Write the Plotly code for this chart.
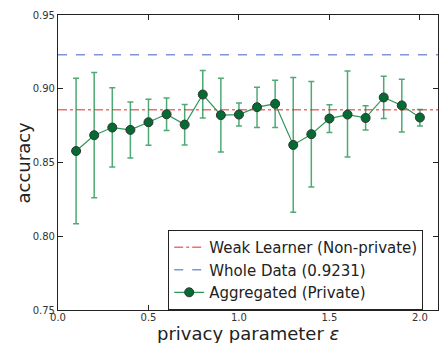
import plotly.graph_objects as go

eps = [0.1, 0.2, 0.3, 0.4, 0.5, 0.6, 0.7, 0.8, 0.9, 1.0,
       1.1, 1.2, 1.3, 1.4, 1.5, 1.6, 1.7, 1.8, 1.9, 2.0]
acc = [0.8578, 0.8685, 0.8737, 0.8721, 0.8773, 0.8827, 0.8757, 0.8961, 0.8821, 0.8825,
       0.8875, 0.8898, 0.8619, 0.8692, 0.8798, 0.8825, 0.8802, 0.8941, 0.8887, 0.8805]
err_top = [0.9072, 0.9110, 0.9006, 0.8911, 0.8929, 0.8938, 0.8893, 0.9124, 0.9072, 0.8904,
           0.9011, 0.9058, 0.9077, 0.9050, 0.8891, 0.9120, 0.8884, 0.9084, 0.9065, 0.8859]
err_bot = [0.8085, 0.8261, 0.8470, 0.8531, 0.8617, 0.8717, 0.8619, 0.8802, 0.8571, 0.8748,
           0.8737, 0.8737, 0.8162, 0.8334, 0.8703, 0.8538, 0.8721, 0.8798, 0.8707, 0.8748]
ref_x = [0.0, 2.1]
weak_acc = 0.8857
whole_acc = 0.9231

err_plus = [t - a for t, a in zip(err_top, acc)]
err_minus = [a - b for a, b in zip(acc, err_bot)]

fig = go.Figure()
fig.add_trace(go.Scatter(
    x=ref_x, y=[weak_acc] * 2, mode="lines",
    name="Weak Learner (Non-private)",
    line=dict(color="#f07070", width=1.5, dash="dashdot"),
))
fig.add_trace(go.Scatter(
    x=ref_x, y=[whole_acc] * 2, mode="lines",
    name="Whole Data (0.9231)",
    line=dict(color="#7f96d4", width=1.5, dash="dash"),
))
fig.add_trace(go.Scatter(
    x=eps, y=acc, mode="lines+markers",
    name="Aggregated (Private)",
    line=dict(color="#2e9958", width=1.2),
    marker=dict(size=9, color="#046b33", line=dict(color="#333333", width=1)),
    error_y=dict(type="data", symmetric=False, array=err_plus, arrayminus=err_minus,
                 color="rgba(20,140,70,0.75)", thickness=1.5, width=3),
))

axis_common = dict(
    showgrid=False, zeroline=False, showline=True, linecolor="#222", linewidth=1.2,
    mirror="ticks", ticks="inside", ticklen=5, tickcolor="#222", automargin=False,
    tickfont=dict(family="DejaVu Sans", size=10, color="#333"),
)
fig.update_xaxes(range=[0, 2.1], tickvals=[0.0, 0.5, 1.0, 1.5, 2.0],
                 ticktext=["0.0", "0.5", "1.0", "1.5", "2.0"],
                 ticklabelstandoff=-2, **axis_common)
fig.update_yaxes(range=[0.75, 0.95], tickvals=[0.75, 0.80, 0.85, 0.90, 0.95],
                 ticktext=["0.75", "0.80", "0.85", "0.90", "0.95"], **axis_common)
fig.add_annotation(text="privacy parameter <i>ε</i>", xref="paper", yref="paper",
                   x=0.5, y=0, yshift=-23, xanchor="center", yanchor="middle",
                   showarrow=False,
                   font=dict(family="DejaVu Sans", size=18, color="#222"))
fig.add_annotation(text="accuracy", xref="paper", yref="paper",
                   x=0, y=0.5, xshift=-35, xanchor="center", yanchor="middle",
                   textangle=-90, showarrow=False,
                   font=dict(family="DejaVu Sans", size=18, color="#222"))
fig.update_layout(
    width=439, height=343,
    margin=dict(l=58, r=1, t=15, b=33),
    paper_bgcolor="white", plot_bgcolor="white",
    font=dict(family="DejaVu Sans", color="#222"),
    showlegend=True,
    legend=dict(x=0.29, y=0.271, xanchor="left", yanchor="top",
                bordercolor="#222", borderwidth=1, bgcolor="white",
                font=dict(family="DejaVu Sans", size=15, color="#222"),
                tracegroupgap=0, itemwidth=30),
)
fig.write_html("out.html", config={"displayModeBar": False},
               post_script="document.body.style.margin='0';")
